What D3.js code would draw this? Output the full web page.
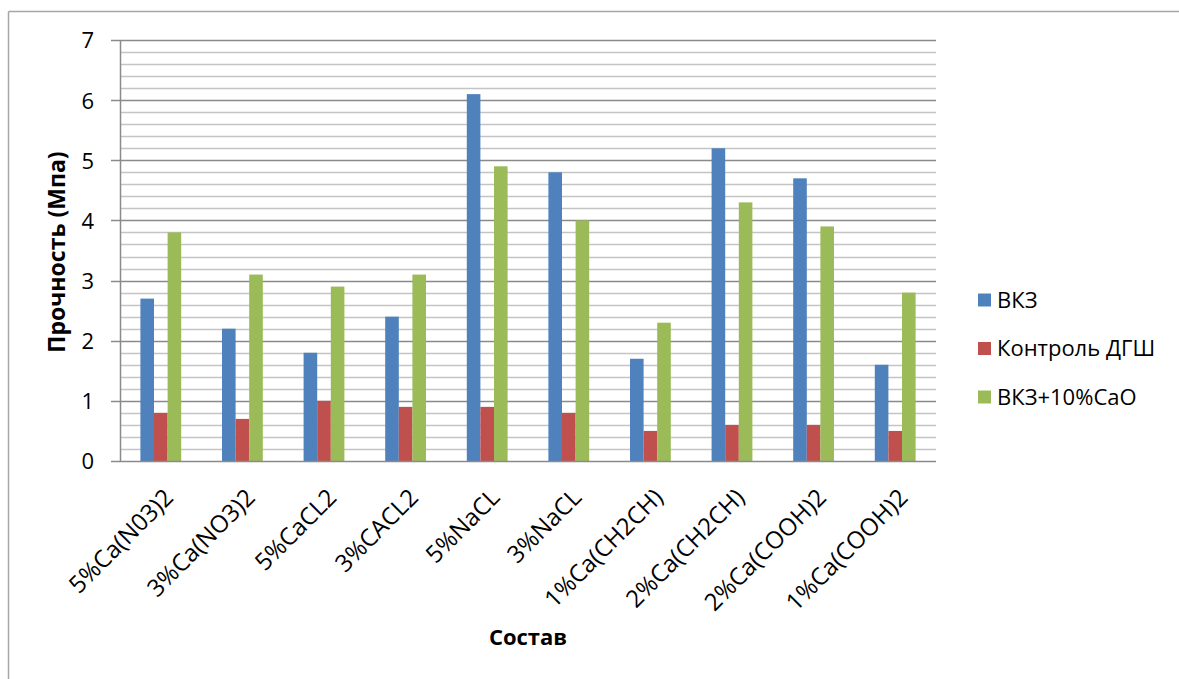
<!DOCTYPE html>
<html>
<head>
<meta charset="utf-8">
<script src="https://cdn.jsdelivr.net/npm/d3@7"></script>
<style>
  html, body { margin: 0; padding: 0; background: #fff; }
  svg { display: block; }
  text { font-family: "Open Sans", "Liberation Sans", sans-serif; fill: #000; }
</style>
</head>
<body>
<svg id="chart" width="1179" height="679"></svg>
<script>
const categories = ["5%Ca(N03)2", "3%Ca(NO3)2", "5%CaCL2", "3%CACL2", "5%NaCL", "3%NaCL", "1%Ca(CH2CH)", "2%Ca(CH2CH)", "2%Ca(COOH)2", "1%Ca(COOH)2"];
const seriesNames = ["ВКЗ", "Контроль ДГШ", "ВКЗ+10%CaO"];
const vkz      = [2.7, 2.2, 1.8, 2.4, 6.1, 4.8, 1.7, 5.2, 4.7, 1.6];
const control  = [0.8, 0.7, 1.0, 0.9, 0.9, 0.8, 0.5, 0.6, 0.6, 0.5];
const vkzCaO   = [3.8, 3.1, 2.9, 3.1, 4.9, 4.0, 2.3, 4.3, 3.9, 2.8];
const seriesColors = ["#4F81BD", "#C0504D", "#9BBB59"];
const yTicks = [0, 1, 2, 3, 4, 5, 6, 7];
const yAxisTitle = "Прочность (Мпа)";
const xAxisTitle = "Состав";

const seriesValues = [vkz, control, vkzCaO];
const svg = d3.select("#chart");

// outer chart frame (left and top visible)
svg.append("line").attr("x1", 8.5).attr("x2", 8.5).attr("y1", 11.5).attr("y2", 679).attr("stroke", "#a6a6a6").attr("stroke-width", 1.5);
svg.append("line").attr("x1", 8.5).attr("x2", 1179).attr("y1", 11.5).attr("y2", 11.5).attr("stroke", "#a6a6a6").attr("stroke-width", 1.5);

const pLeft = 120, pRight = 936, pTop = 40, pBottom = 461;
const x0 = d3.scaleBand().domain(categories).range([pLeft, pRight]).paddingInner(0).paddingOuter(0);
const bw = x0.bandwidth();
const x1 = d3.scaleBand().domain(d3.range(seriesNames.length)).range([bw / 4, bw * 3 / 4]).padding(0);
const y = d3.scaleLinear().domain([0, 7]).range([pBottom, pTop]);

// minor gridlines
const minor = d3.range(1, 35).map(i => i * 0.2).filter(v => Math.abs(v - Math.round(v)) > 1e-6);
svg.append("g").selectAll("line").data(minor).join("line")
  .attr("x1", pLeft).attr("x2", pRight)
  .attr("y1", d => Math.round(y(d)) + 0.5).attr("y2", d => Math.round(y(d)) + 0.5)
  .attr("stroke", "#c4c4c4").attr("stroke-width", 1.3);

// major gridlines
svg.append("g").selectAll("line").data(yTicks.filter(d => d > 0)).join("line")
  .attr("x1", pLeft - 9).attr("x2", pRight)
  .attr("y1", d => Math.round(y(d)) + 0.5).attr("y2", d => Math.round(y(d)) + 0.5)
  .attr("stroke", "#8a8a8a").attr("stroke-width", 1.3);

// bars
const groups = svg.append("g").selectAll("g").data(categories).join("g")
  .attr("transform", d => `translate(${x0(d)},0)`);
groups.selectAll("rect").data((d, i) => seriesValues.map((s, k) => ({ k, v: s[i] }))).join("rect")
  .attr("x", d => x1(d.k))
  .attr("width", x1.bandwidth())
  .attr("y", d => y(d.v))
  .attr("height", d => y(0) - y(d.v))
  .attr("fill", d => seriesColors[d.k]);

// axes lines
svg.append("line").attr("x1", pLeft + 0.5).attr("x2", pLeft + 0.5).attr("y1", pTop).attr("y2", pBottom)
  .attr("stroke", "#8a8a8a").attr("stroke-width", 1.5);
svg.append("line").attr("x1", pLeft - 9).attr("x2", pRight).attr("y1", pBottom + 0.5).attr("y2", pBottom + 0.5)
  .attr("stroke", "#8a8a8a").attr("stroke-width", 1.5);

// y tick labels
const yAxis = d3.axisLeft(y).tickValues(yTicks).tickSize(0).tickPadding(0).tickFormat(d3.format("d"));
const gy = svg.append("g").attr("transform", `translate(${pLeft - 26},0)`).call(yAxis);
gy.select(".domain").remove();
gy.selectAll("text").attr("font-size", 22).attr("font-family", "'Open Sans', sans-serif").attr("dy", "0.36em").attr("fill", "#000");

// x category labels
const xAxis = d3.axisBottom(x0).tickSize(0).tickPadding(0);
const gx = svg.append("g").attr("transform", `translate(0,${pBottom})`).call(xAxis);
gx.select(".domain").remove();
gx.selectAll("text")
  .attr("font-size", 24).attr("font-family", "'Open Sans', sans-serif").attr("fill", "#000")
  .attr("text-anchor", "end")
  .attr("x", 0).attr("y", 0).attr("dy", 0)
  .attr("transform", "translate(14,38) rotate(-45)");

// axis titles
svg.append("text").attr("transform", "translate(65,252) rotate(-90)")
  .attr("text-anchor", "middle").attr("font-size", 23).attr("font-weight", "bold").text(yAxisTitle);
svg.append("text").attr("x", 528).attr("y", 645)
  .attr("text-anchor", "middle").attr("font-size", 22).attr("font-weight", "bold").text(xAxisTitle);

// legend
const legendStep = 48.5;
const lg = svg.append("g").selectAll("g").data(seriesNames).join("g")
  .attr("transform", (d, i) => `translate(978,${300 + i * legendStep})`);
lg.append("rect").attr("x", 0).attr("y", -6.5).attr("width", 13).attr("height", 13).attr("fill", (d, i) => seriesColors[i]);
lg.append("text").attr("x", 19).attr("y", 0).attr("dy", "0.36em").attr("font-size", 22).text(d => d);
</script>
</body>
</html>
